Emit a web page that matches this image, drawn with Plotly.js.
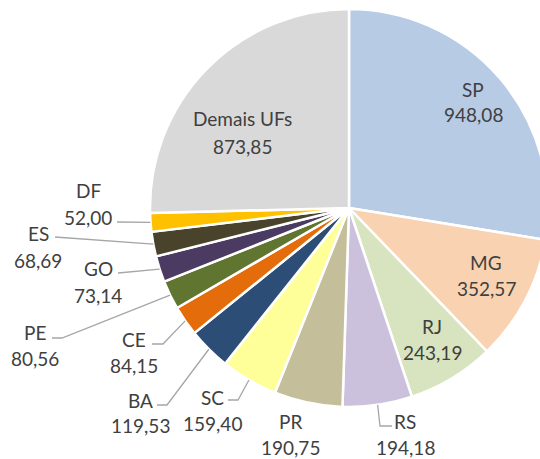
<!DOCTYPE html>
<html>
<head>
<meta charset="utf-8">
<script src="https://cdn.plot.ly/plotly-3.0.1.min.js"></script>
<style>
  html, body { margin: 0; padding: 0; width: 540px; height: 459px; overflow: hidden; background: #fff; }
  #chart { width: 700px; height: 459px; }
</style>
</head>
<body>
<div id="chart"></div>
<script>
// ---- data ----
const labels = ["SP", "MG", "RJ", "RS", "PR", "SC", "BA", "CE", "PE", "GO", "ES", "DF", "Demais UFs"];
const values = [948.08, 352.57, 243.19, 194.18, 190.75, 159.40, 119.53, 84.15, 80.56, 73.14, 68.69, 52.00, 873.85];
const valueText = ["948,08", "352,57", "243,19", "194,18", "190,75", "159,40", "119,53", "84,15", "80,56", "73,14", "68,69", "52,00", "873,85"];

// ---- styles ----
const colors = ["#b7cbe5", "#f9d2b2", "#d8e4bf", "#cbc1dc", "#c5be9a", "#ffff99", "#2c4d75", "#e46c0a", "#5f7530", "#4b3a62", "#4a432b", "#ffc000", "#d9d9d9"];

const W = 700, H = 459;
const CX = 349, CY = 208, R = 199;

// label layout (pixel positions of name / value line centres)
const labelLayout = {
  "SP":        {x: 473, yn: 90,  yv: 114},
  "MG":        {x: 486, yn: 262, yv: 288},
  "RJ":        {x: 432, yn: 326, yv: 352},
  "RS":        {x: 405, yn: 421, yv: 447},
  "PR":        {x: 290, yn: 421, yv: 447},
  "SC":        {x: 212, yn: 397, yv: 423},
  "BA":        {x: 140, yn: 400, yv: 425},
  "CE":        {x: 134, yn: 339, yv: 365},
  "PE":        {x: 35,  yn: 332, yv: 358},
  "GO":        {x: 98,  yn: 268, yv: 295},
  "ES":        {x: 38,  yn: 233, yv: 260},
  "DF":        {x: 88,  yn: 191, yv: 217},
  "Demais UFs":{x: 242, yn: 118, yv: 146}
};
// leader lines: points (pixels) from the label towards the slice edge
const leaderLayout = {
  "DF": [[117, 222]],
  "ES": [[55, 237]],
  "GO": [[118, 273]],
  "PE": [[52, 338], [62, 338]],
  "CE": [[152, 344], [163, 344]],
  "BA": [[157, 405], [167, 405]],
  "SC": [[228, 400], [238, 400]],
  "RS": [[392, 426], [380, 426]]
};

const px = x => x / W;
const py = y => 1 - y / H;

const total = values.reduce((a, b) => a + b, 0);
let cum = 0;
const annotations = [];
const shapes = [];
labels.forEach((lab, i) => {
  const mid = (cum + values[i] / 2) / total * 2 * Math.PI;
  cum += values[i];
  const ex = CX + R * Math.sin(mid);
  const ey = CY - R * Math.cos(mid);
  const L = labelLayout[lab];
  const font = {family: "Lato, 'Open Sans', sans-serif", size: 19, color: "#404040"};
  annotations.push({xref: "paper", yref: "paper", x: px(L.x), y: py(L.yn), text: lab,
    showarrow: false, xanchor: "center", yanchor: "middle", font: font});
  annotations.push({xref: "paper", yref: "paper", x: px(L.x), y: py(L.yv), text: valueText[i],
    showarrow: false, xanchor: "center", yanchor: "middle", font: font});
  if (leaderLayout[lab]) {
    const pts = leaderLayout[lab].concat([[ex, ey]]);
    let d = "M " + px(pts[0][0]) + "," + py(pts[0][1]);
    for (let k = 1; k < pts.length; k++) d += " L " + px(pts[k][0]) + "," + py(pts[k][1]);
    shapes.push({type: "path", xref: "paper", yref: "paper", path: d,
      line: {color: "#a6a6a6", width: 1.3}});
  }
});

const trace = {
  type: "pie",
  labels: labels,
  values: values,
  sort: false,
  direction: "clockwise",
  rotation: 0,
  textinfo: "none",
  hoverinfo: "label+value",
  marker: {colors: colors, line: {color: "#ffffff", width: 2.5}},
  domain: {x: [(CX - R) / W, (CX + R) / W], y: [(H - CY - R) / H, (H - CY + R) / H]},
  showlegend: false
};

Plotly.newPlot("chart", [trace], {
  width: W, height: H,
  margin: {l: 0, r: 0, t: 0, b: 0},
  paper_bgcolor: "#ffffff",
  showlegend: false,
  annotations: annotations,
  shapes: shapes
}, {displayModeBar: false, staticPlot: true});
</script>
</body>
</html>
